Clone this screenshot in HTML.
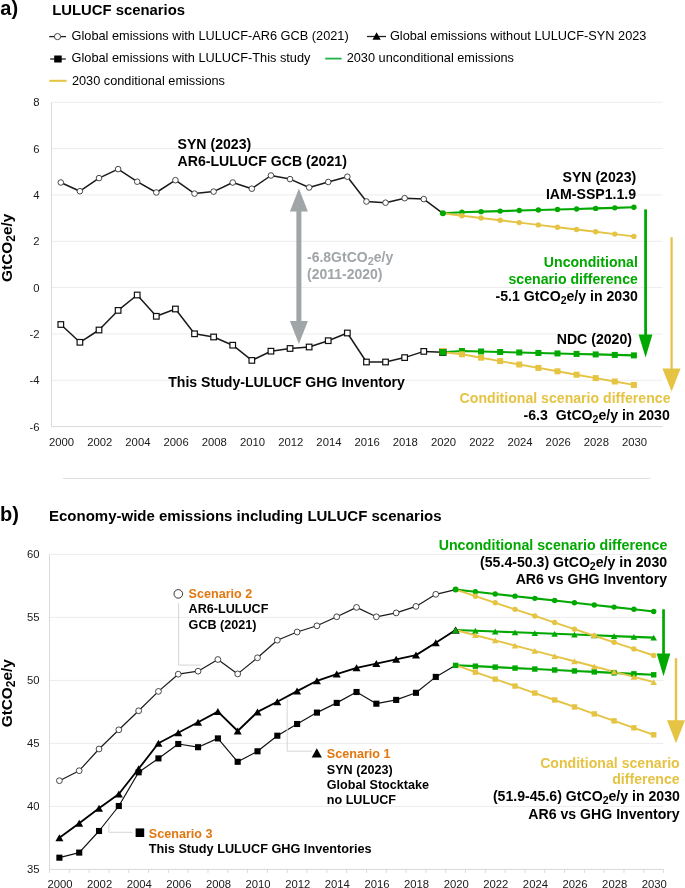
<!DOCTYPE html>
<html><head><meta charset="utf-8"><title>LULUCF scenarios</title>
<style>
html,body{margin:0;padding:0;background:#fff;}
body{width:685px;height:888px;overflow:hidden;}
svg{display:block;}
#w{will-change:transform;width:685px;height:888px;background:#fff;}
text{font-family:"Liberation Sans", sans-serif;fill:#000;}
.lbl{font-size:20px;font-weight:bold;}
.ttl{font-size:14.85px;font-weight:bold;}
.ttl2{font-size:15px;font-weight:bold;}
.lg{font-size:12.75px;}
.tk{font-size:11.3px;fill:#1a1a1a;}
.yt{font-size:15.4px;font-weight:bold;}
.sub{font-size:12px;}
.sub2{font-size:10.5px;}
.an{font-size:14.12px;font-weight:bold;}
.co{font-size:12.6px;font-weight:bold;}
.sub3{font-size:11px;}
.gr{font-size:14px;font-weight:bold;fill:#a0a5a8;}
</style></head>
<body>
<div id="w"><svg width="685" height="888" viewBox="0 0 685 888">
<rect width="685" height="888" fill="#fff"/>
<line x1="51.5" y1="102.24" x2="662.5" y2="102.24" stroke="#ececec" stroke-width="1"/>
<line x1="51.5" y1="148.58" x2="662.5" y2="148.58" stroke="#ececec" stroke-width="1"/>
<line x1="51.5" y1="194.92" x2="662.5" y2="194.92" stroke="#ececec" stroke-width="1"/>
<line x1="51.5" y1="241.26" x2="662.5" y2="241.26" stroke="#ececec" stroke-width="1"/>
<line x1="51.5" y1="287.60" x2="662.5" y2="287.60" stroke="#ececec" stroke-width="1"/>
<line x1="51.5" y1="333.94" x2="662.5" y2="333.94" stroke="#ececec" stroke-width="1"/>
<line x1="51.5" y1="380.28" x2="662.5" y2="380.28" stroke="#ececec" stroke-width="1"/>
<line x1="51.5" y1="102.24" x2="51.5" y2="426.62" stroke="#d9d9d9" stroke-width="1"/>
<line x1="51.5" y1="426.62" x2="662.5" y2="426.62" stroke="#d9d9d9" stroke-width="1"/>
<text x="39.5" y="106.24" text-anchor="end" class="tk">8</text>
<text x="39.5" y="152.58" text-anchor="end" class="tk">6</text>
<text x="39.5" y="198.92" text-anchor="end" class="tk">4</text>
<text x="39.5" y="245.26" text-anchor="end" class="tk">2</text>
<text x="39.5" y="291.60" text-anchor="end" class="tk">0</text>
<text x="39.5" y="337.94" text-anchor="end" class="tk">-2</text>
<text x="39.5" y="384.28" text-anchor="end" class="tk">-4</text>
<text x="39.5" y="430.62" text-anchor="end" class="tk">-6</text>
<text x="61.50" y="445.7" text-anchor="middle" class="tk">2000</text>
<text x="99.71" y="445.7" text-anchor="middle" class="tk">2002</text>
<text x="137.91" y="445.7" text-anchor="middle" class="tk">2004</text>
<text x="176.12" y="445.7" text-anchor="middle" class="tk">2006</text>
<text x="214.32" y="445.7" text-anchor="middle" class="tk">2008</text>
<text x="252.53" y="445.7" text-anchor="middle" class="tk">2010</text>
<text x="290.74" y="445.7" text-anchor="middle" class="tk">2012</text>
<text x="328.94" y="445.7" text-anchor="middle" class="tk">2014</text>
<text x="367.15" y="445.7" text-anchor="middle" class="tk">2016</text>
<text x="405.35" y="445.7" text-anchor="middle" class="tk">2018</text>
<text x="443.56" y="445.7" text-anchor="middle" class="tk">2020</text>
<text x="481.77" y="445.7" text-anchor="middle" class="tk">2022</text>
<text x="519.97" y="445.7" text-anchor="middle" class="tk">2024</text>
<text x="558.18" y="445.7" text-anchor="middle" class="tk">2026</text>
<text x="596.38" y="445.7" text-anchor="middle" class="tk">2028</text>
<text x="634.59" y="445.7" text-anchor="middle" class="tk">2030</text>
<polyline points="60.80,182.50 79.90,191.20 99.01,178.10 118.11,169.10 137.21,181.70 156.31,192.50 175.42,180.20 194.52,193.60 213.62,191.60 232.73,182.50 251.83,188.70 270.93,175.50 290.04,179.10 309.14,187.50 328.24,182.00 347.35,176.70 366.45,201.50 385.55,202.70 404.65,198.20 423.76,199.10 442.86,213.30" fill="none" stroke="#1a1a1a" stroke-width="1.5" stroke-linejoin="round"/>
<polyline points="60.80,324.50 79.90,342.30 99.01,330.00 118.11,310.40 137.21,295.00 156.31,316.30 175.42,309.00 194.52,333.80 213.62,337.00 232.73,345.20 251.83,360.40 270.93,351.20 290.04,348.50 309.14,347.00 328.24,340.70 347.35,333.00 366.45,362.00 385.55,362.00 404.65,357.60 423.76,351.40 442.86,352.20" fill="none" stroke="#1a1a1a" stroke-width="1.5" stroke-linejoin="round"/>
<polyline points="442.86,213.30 461.96,212.20 481.07,211.66 500.17,211.11 519.27,210.57 538.38,210.02 557.48,209.48 576.58,208.93 595.68,208.39 614.79,207.84 633.89,207.30" fill="none" stroke="#00a800" stroke-width="2.1" stroke-linejoin="round"/>
<polyline points="442.86,352.20 461.96,351.00 481.07,351.49 500.17,351.98 519.27,352.47 538.38,352.96 557.48,353.44 576.58,353.93 595.68,354.42 614.79,354.91 633.89,355.40" fill="none" stroke="#00a800" stroke-width="2.1" stroke-linejoin="round"/>
<polyline points="442.86,213.30 461.96,215.70 481.07,218.00 500.17,220.30 519.27,222.60 538.38,224.90 557.48,227.20 576.58,229.50 595.68,231.80 614.79,234.10 633.89,236.40" fill="none" stroke="#e5c343" stroke-width="1.9" stroke-linejoin="round"/>
<polyline points="442.86,352.20 461.96,354.30 481.07,357.70 500.17,361.10 519.27,364.50 538.38,367.90 557.48,371.30 576.58,374.70 595.68,378.10 614.79,381.50 633.89,384.90" fill="none" stroke="#e5c343" stroke-width="1.9" stroke-linejoin="round"/>
<circle cx="60.80" cy="182.50" r="2.8" fill="#fff" stroke="#333" stroke-width="0.9"/>
<rect x="58.00" y="321.70" width="5.6" height="5.6" fill="#fff" stroke="#111" stroke-width="1.2"/>
<circle cx="79.90" cy="191.20" r="2.8" fill="#fff" stroke="#333" stroke-width="0.9"/>
<rect x="77.10" y="339.50" width="5.6" height="5.6" fill="#fff" stroke="#111" stroke-width="1.2"/>
<circle cx="99.01" cy="178.10" r="2.8" fill="#fff" stroke="#333" stroke-width="0.9"/>
<rect x="96.21" y="327.20" width="5.6" height="5.6" fill="#fff" stroke="#111" stroke-width="1.2"/>
<circle cx="118.11" cy="169.10" r="2.8" fill="#fff" stroke="#333" stroke-width="0.9"/>
<rect x="115.31" y="307.60" width="5.6" height="5.6" fill="#fff" stroke="#111" stroke-width="1.2"/>
<circle cx="137.21" cy="181.70" r="2.8" fill="#fff" stroke="#333" stroke-width="0.9"/>
<rect x="134.41" y="292.20" width="5.6" height="5.6" fill="#fff" stroke="#111" stroke-width="1.2"/>
<circle cx="156.31" cy="192.50" r="2.8" fill="#fff" stroke="#333" stroke-width="0.9"/>
<rect x="153.51" y="313.50" width="5.6" height="5.6" fill="#fff" stroke="#111" stroke-width="1.2"/>
<circle cx="175.42" cy="180.20" r="2.8" fill="#fff" stroke="#333" stroke-width="0.9"/>
<rect x="172.62" y="306.20" width="5.6" height="5.6" fill="#fff" stroke="#111" stroke-width="1.2"/>
<circle cx="194.52" cy="193.60" r="2.8" fill="#fff" stroke="#333" stroke-width="0.9"/>
<rect x="191.72" y="331.00" width="5.6" height="5.6" fill="#fff" stroke="#111" stroke-width="1.2"/>
<circle cx="213.62" cy="191.60" r="2.8" fill="#fff" stroke="#333" stroke-width="0.9"/>
<rect x="210.82" y="334.20" width="5.6" height="5.6" fill="#fff" stroke="#111" stroke-width="1.2"/>
<circle cx="232.73" cy="182.50" r="2.8" fill="#fff" stroke="#333" stroke-width="0.9"/>
<rect x="229.93" y="342.40" width="5.6" height="5.6" fill="#fff" stroke="#111" stroke-width="1.2"/>
<circle cx="251.83" cy="188.70" r="2.8" fill="#fff" stroke="#333" stroke-width="0.9"/>
<rect x="249.03" y="357.60" width="5.6" height="5.6" fill="#fff" stroke="#111" stroke-width="1.2"/>
<circle cx="270.93" cy="175.50" r="2.8" fill="#fff" stroke="#333" stroke-width="0.9"/>
<rect x="268.13" y="348.40" width="5.6" height="5.6" fill="#fff" stroke="#111" stroke-width="1.2"/>
<circle cx="290.04" cy="179.10" r="2.8" fill="#fff" stroke="#333" stroke-width="0.9"/>
<rect x="287.24" y="345.70" width="5.6" height="5.6" fill="#fff" stroke="#111" stroke-width="1.2"/>
<circle cx="309.14" cy="187.50" r="2.8" fill="#fff" stroke="#333" stroke-width="0.9"/>
<rect x="306.34" y="344.20" width="5.6" height="5.6" fill="#fff" stroke="#111" stroke-width="1.2"/>
<circle cx="328.24" cy="182.00" r="2.8" fill="#fff" stroke="#333" stroke-width="0.9"/>
<rect x="325.44" y="337.90" width="5.6" height="5.6" fill="#fff" stroke="#111" stroke-width="1.2"/>
<circle cx="347.35" cy="176.70" r="2.8" fill="#fff" stroke="#333" stroke-width="0.9"/>
<rect x="344.55" y="330.20" width="5.6" height="5.6" fill="#fff" stroke="#111" stroke-width="1.2"/>
<circle cx="366.45" cy="201.50" r="2.8" fill="#fff" stroke="#333" stroke-width="0.9"/>
<rect x="363.65" y="359.20" width="5.6" height="5.6" fill="#fff" stroke="#111" stroke-width="1.2"/>
<circle cx="385.55" cy="202.70" r="2.8" fill="#fff" stroke="#333" stroke-width="0.9"/>
<rect x="382.75" y="359.20" width="5.6" height="5.6" fill="#fff" stroke="#111" stroke-width="1.2"/>
<circle cx="404.65" cy="198.20" r="2.8" fill="#fff" stroke="#333" stroke-width="0.9"/>
<rect x="401.85" y="354.80" width="5.6" height="5.6" fill="#fff" stroke="#111" stroke-width="1.2"/>
<circle cx="423.76" cy="199.10" r="2.8" fill="#fff" stroke="#333" stroke-width="0.9"/>
<rect x="420.96" y="348.60" width="5.6" height="5.6" fill="#fff" stroke="#111" stroke-width="1.2"/>
<rect x="439.16" y="348.60" width="7.4" height="7.4" fill="#222"/>
<rect x="439.76" y="348.00" width="6.2" height="6.2" fill="#e5c343"/>
<rect x="439.66" y="349.00" width="6.4" height="6.4" fill="#00a800"/>
<circle cx="442.86" cy="213.30" r="3.0" fill="#00a800"/>
<circle cx="461.96" cy="212.20" r="2.7" fill="#00a800"/>
<rect x="458.96" y="348.00" width="6" height="6" fill="#00a800"/>
<circle cx="481.07" cy="211.66" r="2.7" fill="#00a800"/>
<rect x="478.07" y="348.49" width="6" height="6" fill="#00a800"/>
<circle cx="500.17" cy="211.11" r="2.7" fill="#00a800"/>
<rect x="497.17" y="348.98" width="6" height="6" fill="#00a800"/>
<circle cx="519.27" cy="210.57" r="2.7" fill="#00a800"/>
<rect x="516.27" y="349.47" width="6" height="6" fill="#00a800"/>
<circle cx="538.38" cy="210.02" r="2.7" fill="#00a800"/>
<rect x="535.38" y="349.96" width="6" height="6" fill="#00a800"/>
<circle cx="557.48" cy="209.48" r="2.7" fill="#00a800"/>
<rect x="554.48" y="350.44" width="6" height="6" fill="#00a800"/>
<circle cx="576.58" cy="208.93" r="2.7" fill="#00a800"/>
<rect x="573.58" y="350.93" width="6" height="6" fill="#00a800"/>
<circle cx="595.68" cy="208.39" r="2.7" fill="#00a800"/>
<rect x="592.68" y="351.42" width="6" height="6" fill="#00a800"/>
<circle cx="614.79" cy="207.84" r="2.7" fill="#00a800"/>
<rect x="611.79" y="351.91" width="6" height="6" fill="#00a800"/>
<circle cx="633.89" cy="207.30" r="2.7" fill="#00a800"/>
<rect x="630.89" y="352.40" width="6" height="6" fill="#00a800"/>
<circle cx="461.96" cy="215.70" r="2.7" fill="#e5c343"/>
<rect x="458.96" y="351.30" width="6" height="6" fill="#e5c343"/>
<circle cx="481.07" cy="218.00" r="2.7" fill="#e5c343"/>
<rect x="478.07" y="354.70" width="6" height="6" fill="#e5c343"/>
<circle cx="500.17" cy="220.30" r="2.7" fill="#e5c343"/>
<rect x="497.17" y="358.10" width="6" height="6" fill="#e5c343"/>
<circle cx="519.27" cy="222.60" r="2.7" fill="#e5c343"/>
<rect x="516.27" y="361.50" width="6" height="6" fill="#e5c343"/>
<circle cx="538.38" cy="224.90" r="2.7" fill="#e5c343"/>
<rect x="535.38" y="364.90" width="6" height="6" fill="#e5c343"/>
<circle cx="557.48" cy="227.20" r="2.7" fill="#e5c343"/>
<rect x="554.48" y="368.30" width="6" height="6" fill="#e5c343"/>
<circle cx="576.58" cy="229.50" r="2.7" fill="#e5c343"/>
<rect x="573.58" y="371.70" width="6" height="6" fill="#e5c343"/>
<circle cx="595.68" cy="231.80" r="2.7" fill="#e5c343"/>
<rect x="592.68" y="375.10" width="6" height="6" fill="#e5c343"/>
<circle cx="614.79" cy="234.10" r="2.7" fill="#e5c343"/>
<rect x="611.79" y="378.50" width="6" height="6" fill="#e5c343"/>
<circle cx="633.89" cy="236.40" r="2.7" fill="#e5c343"/>
<rect x="630.89" y="381.90" width="6" height="6" fill="#e5c343"/>
<rect x="296.4" y="210" width="5" height="113" fill="#a0a5a8"/>
<polygon points="298.9,188.4 289.9,211.5 307.9,211.5" fill="#a0a5a8"/>
<polygon points="298.9,344 289.9,321 307.9,321" fill="#a0a5a8"/>
<rect x="644.2" y="209.4" width="2.8" height="126" fill="#00a800"/>
<polygon points="645.6,357.6 638.6,334.6 652.4,334.6" fill="#00a800"/>
<rect x="670.5" y="237.2" width="2.2" height="132" fill="#e5c343"/>
<polygon points="671.6,391.4 662.4,368.4 680.6,368.4" fill="#e5c343"/>
<text x="0.3" y="15.0" class="lbl">a)</text>
<text x="52.2" y="14.9" class="ttl">LULUCF scenarios</text>
<line x1="49.2" y1="36.6" x2="66" y2="36.6" stroke="#222" stroke-width="1.3"/>
<circle cx="57.5" cy="36.6" r="3.1" fill="#fff" stroke="#333" stroke-width="0.9"/>
<text x="71.6" y="39.8" class="lg">Global emissions with LULUCF-AR6 GCB (2021)</text>
<line x1="367" y1="36.5" x2="386" y2="36.5" stroke="#222" stroke-width="1.3"/>
<polygon points="376.6,32.3 372.5,39.8 380.7,39.8" fill="#000"/>
<text x="389.9" y="39.8" class="lg">Global emissions without LULUCF-SYN 2023</text>
<line x1="50.2" y1="59.0" x2="65.8" y2="59.0" stroke="#222" stroke-width="1.3"/>
<rect x="54.2" y="55.5" width="7.5" height="7.0" fill="#000"/>
<text x="71.6" y="62.3" class="lg">Global emissions with LULUCF-This study</text>
<line x1="325.2" y1="58.6" x2="341.6" y2="58.6" stroke="#22b14c" stroke-width="1.8"/>
<text x="346.7" y="62.3" class="lg">2030 unconditional emissions</text>
<line x1="49.3" y1="80.8" x2="66.6" y2="80.8" stroke="#e5c343" stroke-width="2"/>
<text x="71.9" y="85.1" class="lg">2030 conditional emissions</text>
<text transform="translate(12.3,247.8) rotate(-90)" text-anchor="middle" class="yt">GtCO<tspan class="sub" dy="3">2</tspan><tspan dy="-3">e/y</tspan></text>
<text x="177.5" y="148.9" class="an">SYN (2023)</text>
<text x="177.5" y="165.9" class="an">AR6-LULUCF GCB (2021)</text>
<text x="636.2" y="181.7" text-anchor="end" class="an">SYN (2023)</text>
<text x="636.1" y="198.5" text-anchor="end" class="an">IAM-SSP1.1.9</text>
<text x="307.0" y="262.3" class="gr">-6.8GtCO<tspan class="sub3" dy="2.6">2</tspan><tspan dy="-2.6">e/y</tspan></text>
<text x="307.0" y="279.0" class="gr">(2011-2020)</text>
<text x="637.9" y="266.5" text-anchor="end" class="an" style="fill:#00a800">Unconditional</text>
<text x="637.9" y="284.2" text-anchor="end" class="an" style="fill:#00a800">scenario difference</text>
<text x="637.9" y="300.7" text-anchor="end" class="an">-5.1 GtCO<tspan class="sub2" dy="2.8">2</tspan><tspan dy="-2.8">e/y in 2030</tspan></text>
<text x="632" y="344.2" text-anchor="end" class="an">NDC (2020)</text>
<text x="168.2" y="386.7" class="an">This Study-LULUCF GHG Inventory</text>
<text x="670.5" y="403" text-anchor="end" class="an" style="fill:#e5c343">Conditional scenario difference</text>
<text x="669.8" y="419.7" text-anchor="end" class="an" style="white-space:pre">-6.3  GtCO<tspan class="sub2" dy="2.8">2</tspan><tspan dy="-2.8">e/y in 2030</tspan></text>
<line x1="63" y1="478.4" x2="650.2" y2="478.4" stroke="#dcdcdc" stroke-width="1"/>
<line x1="49.5" y1="554.40" x2="663.6" y2="554.40" stroke="#ececec" stroke-width="1"/>
<line x1="49.5" y1="617.40" x2="663.6" y2="617.40" stroke="#ececec" stroke-width="1"/>
<line x1="49.5" y1="680.40" x2="663.6" y2="680.40" stroke="#ececec" stroke-width="1"/>
<line x1="49.5" y1="743.40" x2="663.6" y2="743.40" stroke="#ececec" stroke-width="1"/>
<line x1="49.5" y1="806.40" x2="663.6" y2="806.40" stroke="#ececec" stroke-width="1"/>
<line x1="49.5" y1="554.40" x2="49.5" y2="869.40" stroke="#d9d9d9" stroke-width="1"/>
<line x1="49.5" y1="869.40" x2="663.6" y2="869.40" stroke="#d9d9d9" stroke-width="1"/>
<line x1="49.50" y1="869.40" x2="49.50" y2="872.90" stroke="#d9d9d9" stroke-width="1"/>
<line x1="69.31" y1="869.40" x2="69.31" y2="872.90" stroke="#d9d9d9" stroke-width="1"/>
<line x1="89.12" y1="869.40" x2="89.12" y2="872.90" stroke="#d9d9d9" stroke-width="1"/>
<line x1="108.93" y1="869.40" x2="108.93" y2="872.90" stroke="#d9d9d9" stroke-width="1"/>
<line x1="128.74" y1="869.40" x2="128.74" y2="872.90" stroke="#d9d9d9" stroke-width="1"/>
<line x1="148.55" y1="869.40" x2="148.55" y2="872.90" stroke="#d9d9d9" stroke-width="1"/>
<line x1="168.36" y1="869.40" x2="168.36" y2="872.90" stroke="#d9d9d9" stroke-width="1"/>
<line x1="188.17" y1="869.40" x2="188.17" y2="872.90" stroke="#d9d9d9" stroke-width="1"/>
<line x1="207.98" y1="869.40" x2="207.98" y2="872.90" stroke="#d9d9d9" stroke-width="1"/>
<line x1="227.79" y1="869.40" x2="227.79" y2="872.90" stroke="#d9d9d9" stroke-width="1"/>
<line x1="247.60" y1="869.40" x2="247.60" y2="872.90" stroke="#d9d9d9" stroke-width="1"/>
<line x1="267.41" y1="869.40" x2="267.41" y2="872.90" stroke="#d9d9d9" stroke-width="1"/>
<line x1="287.22" y1="869.40" x2="287.22" y2="872.90" stroke="#d9d9d9" stroke-width="1"/>
<line x1="307.03" y1="869.40" x2="307.03" y2="872.90" stroke="#d9d9d9" stroke-width="1"/>
<line x1="326.84" y1="869.40" x2="326.84" y2="872.90" stroke="#d9d9d9" stroke-width="1"/>
<line x1="346.65" y1="869.40" x2="346.65" y2="872.90" stroke="#d9d9d9" stroke-width="1"/>
<line x1="366.46" y1="869.40" x2="366.46" y2="872.90" stroke="#d9d9d9" stroke-width="1"/>
<line x1="386.27" y1="869.40" x2="386.27" y2="872.90" stroke="#d9d9d9" stroke-width="1"/>
<line x1="406.08" y1="869.40" x2="406.08" y2="872.90" stroke="#d9d9d9" stroke-width="1"/>
<line x1="425.89" y1="869.40" x2="425.89" y2="872.90" stroke="#d9d9d9" stroke-width="1"/>
<line x1="445.70" y1="869.40" x2="445.70" y2="872.90" stroke="#d9d9d9" stroke-width="1"/>
<line x1="465.51" y1="869.40" x2="465.51" y2="872.90" stroke="#d9d9d9" stroke-width="1"/>
<line x1="485.32" y1="869.40" x2="485.32" y2="872.90" stroke="#d9d9d9" stroke-width="1"/>
<line x1="505.13" y1="869.40" x2="505.13" y2="872.90" stroke="#d9d9d9" stroke-width="1"/>
<line x1="524.94" y1="869.40" x2="524.94" y2="872.90" stroke="#d9d9d9" stroke-width="1"/>
<line x1="544.75" y1="869.40" x2="544.75" y2="872.90" stroke="#d9d9d9" stroke-width="1"/>
<line x1="564.56" y1="869.40" x2="564.56" y2="872.90" stroke="#d9d9d9" stroke-width="1"/>
<line x1="584.37" y1="869.40" x2="584.37" y2="872.90" stroke="#d9d9d9" stroke-width="1"/>
<line x1="604.18" y1="869.40" x2="604.18" y2="872.90" stroke="#d9d9d9" stroke-width="1"/>
<line x1="623.99" y1="869.40" x2="623.99" y2="872.90" stroke="#d9d9d9" stroke-width="1"/>
<line x1="643.80" y1="869.40" x2="643.80" y2="872.90" stroke="#d9d9d9" stroke-width="1"/>
<line x1="663.61" y1="869.40" x2="663.61" y2="872.90" stroke="#d9d9d9" stroke-width="1"/>
<text x="39.6" y="558.10" text-anchor="end" class="tk">60</text>
<text x="39.6" y="621.10" text-anchor="end" class="tk">55</text>
<text x="39.6" y="684.10" text-anchor="end" class="tk">50</text>
<text x="39.6" y="747.10" text-anchor="end" class="tk">45</text>
<text x="39.6" y="810.10" text-anchor="end" class="tk">40</text>
<text x="39.6" y="873.10" text-anchor="end" class="tk">35</text>
<text x="60.00" y="888.1" text-anchor="middle" class="tk">2000</text>
<text x="99.62" y="888.1" text-anchor="middle" class="tk">2002</text>
<text x="139.24" y="888.1" text-anchor="middle" class="tk">2004</text>
<text x="178.86" y="888.1" text-anchor="middle" class="tk">2006</text>
<text x="218.48" y="888.1" text-anchor="middle" class="tk">2008</text>
<text x="258.10" y="888.1" text-anchor="middle" class="tk">2010</text>
<text x="297.72" y="888.1" text-anchor="middle" class="tk">2012</text>
<text x="337.34" y="888.1" text-anchor="middle" class="tk">2014</text>
<text x="376.96" y="888.1" text-anchor="middle" class="tk">2016</text>
<text x="416.58" y="888.1" text-anchor="middle" class="tk">2018</text>
<text x="456.20" y="888.1" text-anchor="middle" class="tk">2020</text>
<text x="495.82" y="888.1" text-anchor="middle" class="tk">2022</text>
<text x="535.44" y="888.1" text-anchor="middle" class="tk">2024</text>
<text x="575.06" y="888.1" text-anchor="middle" class="tk">2026</text>
<text x="614.68" y="888.1" text-anchor="middle" class="tk">2028</text>
<text x="654.30" y="888.1" text-anchor="middle" class="tk">2030</text>
<polyline points="59.40,780.70 79.21,770.70 99.02,749.00 118.83,729.80 138.64,710.80 158.45,691.40 178.26,674.20 198.07,671.20 217.88,659.50 237.69,673.90 257.50,657.80 277.31,640.20 297.12,632.00 316.93,625.80 336.74,616.80 356.55,607.40 376.36,616.80 396.17,612.90 415.98,606.40 435.79,594.30 455.60,589.60" fill="none" stroke="#1a1a1a" stroke-width="1.2" stroke-linejoin="round"/>
<polyline points="59.40,837.80 79.21,823.20 99.02,808.30 118.83,794.00 138.64,768.80 158.45,743.30 178.26,732.80 198.07,722.30 217.88,711.60 237.69,731.00 257.50,711.90 277.31,701.70 297.12,691.10 316.93,680.80 336.74,674.10 356.55,667.80 376.36,663.60 396.17,659.30 415.98,655.10 435.79,642.70 455.60,630.00" fill="none" stroke="#000" stroke-width="1.85" stroke-linejoin="round"/>
<polyline points="59.40,857.70 79.21,852.60 99.02,831.00 118.83,806.00 138.64,772.30 158.45,758.40 178.26,744.00 198.07,747.20 217.88,738.40 237.69,761.80 257.50,751.30 277.31,735.70 297.12,724.00 316.93,712.60 336.74,702.90 356.55,692.00 376.36,703.70 396.17,699.90 415.98,692.80 435.79,676.90 455.60,665.20" fill="none" stroke="#111" stroke-width="1.2" stroke-linejoin="round"/>
<polyline points="455.60,589.60 475.41,591.79 495.22,593.98 515.03,596.17 534.84,598.36 554.65,600.55 574.46,602.74 594.27,604.93 614.08,607.12 633.89,609.31 653.70,611.50" fill="none" stroke="#00a800" stroke-width="2.1" stroke-linejoin="round"/>
<polyline points="455.60,630.00 475.41,630.76 495.22,631.52 515.03,632.28 534.84,633.04 554.65,633.80 574.46,634.56 594.27,635.32 614.08,636.08 633.89,636.84 653.70,637.60" fill="none" stroke="#00a800" stroke-width="2.1" stroke-linejoin="round"/>
<polyline points="455.60,665.20 475.41,666.16 495.22,667.12 515.03,668.08 534.84,669.04 554.65,670.00 574.46,670.96 594.27,671.92 614.08,672.88 633.89,673.84 653.70,674.80" fill="none" stroke="#00a800" stroke-width="2.1" stroke-linejoin="round"/>
<polyline points="455.60,589.60 475.41,596.19 495.22,602.78 515.03,609.37 534.84,615.96 554.65,622.55 574.46,629.14 594.27,635.73 614.08,642.32 633.89,648.91 653.70,655.50" fill="none" stroke="#e5c343" stroke-width="1.9" stroke-linejoin="round"/>
<polyline points="455.60,630.00 475.41,635.21 495.22,640.42 515.03,645.63 534.84,650.84 554.65,656.05 574.46,661.26 594.27,666.47 614.08,671.68 633.89,676.89 653.70,682.10" fill="none" stroke="#e5c343" stroke-width="1.9" stroke-linejoin="round"/>
<polyline points="455.60,665.20 475.41,672.16 495.22,679.12 515.03,686.08 534.84,693.04 554.65,700.00 574.46,706.96 594.27,713.92 614.08,720.88 633.89,727.84 653.70,734.80" fill="none" stroke="#e5c343" stroke-width="1.9" stroke-linejoin="round"/>
<circle cx="59.40" cy="780.70" r="2.9" fill="#fff" stroke="#333" stroke-width="0.9"/>
<rect x="56.35" y="854.65" width="6.1" height="6.1" fill="#000"/>
<polygon points="59.40,834.30 55.40,841.30 63.40,841.30" fill="#000"/>
<circle cx="79.21" cy="770.70" r="2.9" fill="#fff" stroke="#333" stroke-width="0.9"/>
<rect x="76.16" y="849.55" width="6.1" height="6.1" fill="#000"/>
<polygon points="79.21,819.70 75.21,826.70 83.21,826.70" fill="#000"/>
<circle cx="99.02" cy="749.00" r="2.9" fill="#fff" stroke="#333" stroke-width="0.9"/>
<rect x="95.97" y="827.95" width="6.1" height="6.1" fill="#000"/>
<polygon points="99.02,804.80 95.02,811.80 103.02,811.80" fill="#000"/>
<circle cx="118.83" cy="729.80" r="2.9" fill="#fff" stroke="#333" stroke-width="0.9"/>
<rect x="115.78" y="802.95" width="6.1" height="6.1" fill="#000"/>
<polygon points="118.83,790.50 114.83,797.50 122.83,797.50" fill="#000"/>
<circle cx="138.64" cy="710.80" r="2.9" fill="#fff" stroke="#333" stroke-width="0.9"/>
<rect x="135.59" y="769.25" width="6.1" height="6.1" fill="#000"/>
<polygon points="138.64,765.30 134.64,772.30 142.64,772.30" fill="#000"/>
<circle cx="158.45" cy="691.40" r="2.9" fill="#fff" stroke="#333" stroke-width="0.9"/>
<rect x="155.40" y="755.35" width="6.1" height="6.1" fill="#000"/>
<polygon points="158.45,739.80 154.45,746.80 162.45,746.80" fill="#000"/>
<circle cx="178.26" cy="674.20" r="2.9" fill="#fff" stroke="#333" stroke-width="0.9"/>
<rect x="175.21" y="740.95" width="6.1" height="6.1" fill="#000"/>
<polygon points="178.26,729.30 174.26,736.30 182.26,736.30" fill="#000"/>
<circle cx="198.07" cy="671.20" r="2.9" fill="#fff" stroke="#333" stroke-width="0.9"/>
<rect x="195.02" y="744.15" width="6.1" height="6.1" fill="#000"/>
<polygon points="198.07,718.80 194.07,725.80 202.07,725.80" fill="#000"/>
<circle cx="217.88" cy="659.50" r="2.9" fill="#fff" stroke="#333" stroke-width="0.9"/>
<rect x="214.83" y="735.35" width="6.1" height="6.1" fill="#000"/>
<polygon points="217.88,708.10 213.88,715.10 221.88,715.10" fill="#000"/>
<circle cx="237.69" cy="673.90" r="2.9" fill="#fff" stroke="#333" stroke-width="0.9"/>
<rect x="234.64" y="758.75" width="6.1" height="6.1" fill="#000"/>
<polygon points="237.69,727.50 233.69,734.50 241.69,734.50" fill="#000"/>
<circle cx="257.50" cy="657.80" r="2.9" fill="#fff" stroke="#333" stroke-width="0.9"/>
<rect x="254.45" y="748.25" width="6.1" height="6.1" fill="#000"/>
<polygon points="257.50,708.40 253.50,715.40 261.50,715.40" fill="#000"/>
<circle cx="277.31" cy="640.20" r="2.9" fill="#fff" stroke="#333" stroke-width="0.9"/>
<rect x="274.26" y="732.65" width="6.1" height="6.1" fill="#000"/>
<polygon points="277.31,698.20 273.31,705.20 281.31,705.20" fill="#000"/>
<circle cx="297.12" cy="632.00" r="2.9" fill="#fff" stroke="#333" stroke-width="0.9"/>
<rect x="294.07" y="720.95" width="6.1" height="6.1" fill="#000"/>
<polygon points="297.12,687.60 293.12,694.60 301.12,694.60" fill="#000"/>
<circle cx="316.93" cy="625.80" r="2.9" fill="#fff" stroke="#333" stroke-width="0.9"/>
<rect x="313.88" y="709.55" width="6.1" height="6.1" fill="#000"/>
<polygon points="316.93,677.30 312.93,684.30 320.93,684.30" fill="#000"/>
<circle cx="336.74" cy="616.80" r="2.9" fill="#fff" stroke="#333" stroke-width="0.9"/>
<rect x="333.69" y="699.85" width="6.1" height="6.1" fill="#000"/>
<polygon points="336.74,670.60 332.74,677.60 340.74,677.60" fill="#000"/>
<circle cx="356.55" cy="607.40" r="2.9" fill="#fff" stroke="#333" stroke-width="0.9"/>
<rect x="353.50" y="688.95" width="6.1" height="6.1" fill="#000"/>
<polygon points="356.55,664.30 352.55,671.30 360.55,671.30" fill="#000"/>
<circle cx="376.36" cy="616.80" r="2.9" fill="#fff" stroke="#333" stroke-width="0.9"/>
<rect x="373.31" y="700.65" width="6.1" height="6.1" fill="#000"/>
<polygon points="376.36,660.10 372.36,667.10 380.36,667.10" fill="#000"/>
<circle cx="396.17" cy="612.90" r="2.9" fill="#fff" stroke="#333" stroke-width="0.9"/>
<rect x="393.12" y="696.85" width="6.1" height="6.1" fill="#000"/>
<polygon points="396.17,655.80 392.17,662.80 400.17,662.80" fill="#000"/>
<circle cx="415.98" cy="606.40" r="2.9" fill="#fff" stroke="#333" stroke-width="0.9"/>
<rect x="412.93" y="689.75" width="6.1" height="6.1" fill="#000"/>
<polygon points="415.98,651.60 411.98,658.60 419.98,658.60" fill="#000"/>
<circle cx="435.79" cy="594.30" r="2.9" fill="#fff" stroke="#333" stroke-width="0.9"/>
<rect x="432.74" y="673.85" width="6.1" height="6.1" fill="#000"/>
<polygon points="435.79,639.20 431.79,646.20 439.79,646.20" fill="#000"/>
<polygon points="455.60,626.50 451.60,633.50 459.60,633.50" fill="#000"/>
<circle cx="475.41" cy="591.79" r="2.7" fill="#00a800"/>
<circle cx="495.22" cy="593.98" r="2.7" fill="#00a800"/>
<circle cx="515.03" cy="596.17" r="2.7" fill="#00a800"/>
<circle cx="534.84" cy="598.36" r="2.7" fill="#00a800"/>
<circle cx="554.65" cy="600.55" r="2.7" fill="#00a800"/>
<circle cx="574.46" cy="602.74" r="2.7" fill="#00a800"/>
<circle cx="594.27" cy="604.93" r="2.7" fill="#00a800"/>
<circle cx="614.08" cy="607.12" r="2.7" fill="#00a800"/>
<circle cx="633.89" cy="609.31" r="2.7" fill="#00a800"/>
<circle cx="653.70" cy="611.50" r="2.7" fill="#00a800"/>
<polygon points="475.41,627.86 472.11,633.66 478.71,633.66" fill="#00a800"/>
<polygon points="495.22,628.62 491.92,634.42 498.52,634.42" fill="#00a800"/>
<polygon points="515.03,629.38 511.73,635.18 518.33,635.18" fill="#00a800"/>
<polygon points="534.84,630.14 531.54,635.94 538.14,635.94" fill="#00a800"/>
<polygon points="554.65,630.90 551.35,636.70 557.95,636.70" fill="#00a800"/>
<polygon points="574.46,631.66 571.16,637.46 577.76,637.46" fill="#00a800"/>
<polygon points="594.27,632.42 590.97,638.22 597.57,638.22" fill="#00a800"/>
<polygon points="614.08,633.18 610.78,638.98 617.38,638.98" fill="#00a800"/>
<polygon points="633.89,633.94 630.59,639.74 637.19,639.74" fill="#00a800"/>
<polygon points="653.70,634.70 650.40,640.50 657.00,640.50" fill="#00a800"/>
<rect x="472.71" y="663.46" width="5.4" height="5.4" fill="#00a800"/>
<rect x="492.52" y="664.42" width="5.4" height="5.4" fill="#00a800"/>
<rect x="512.33" y="665.38" width="5.4" height="5.4" fill="#00a800"/>
<rect x="532.14" y="666.34" width="5.4" height="5.4" fill="#00a800"/>
<rect x="551.95" y="667.30" width="5.4" height="5.4" fill="#00a800"/>
<rect x="571.76" y="668.26" width="5.4" height="5.4" fill="#00a800"/>
<rect x="591.57" y="669.22" width="5.4" height="5.4" fill="#00a800"/>
<rect x="611.38" y="670.18" width="5.4" height="5.4" fill="#00a800"/>
<rect x="631.19" y="671.14" width="5.4" height="5.4" fill="#00a800"/>
<rect x="651.00" y="672.10" width="5.4" height="5.4" fill="#00a800"/>
<circle cx="475.41" cy="596.19" r="2.7" fill="#e5c343"/>
<circle cx="495.22" cy="602.78" r="2.7" fill="#e5c343"/>
<circle cx="515.03" cy="609.37" r="2.7" fill="#e5c343"/>
<circle cx="534.84" cy="615.96" r="2.7" fill="#e5c343"/>
<circle cx="554.65" cy="622.55" r="2.7" fill="#e5c343"/>
<circle cx="574.46" cy="629.14" r="2.7" fill="#e5c343"/>
<circle cx="594.27" cy="635.73" r="2.7" fill="#e5c343"/>
<circle cx="614.08" cy="642.32" r="2.7" fill="#e5c343"/>
<circle cx="633.89" cy="648.91" r="2.7" fill="#e5c343"/>
<circle cx="653.70" cy="655.50" r="2.7" fill="#e5c343"/>
<polygon points="475.41,632.31 472.11,638.11 478.71,638.11" fill="#e5c343"/>
<polygon points="495.22,637.52 491.92,643.32 498.52,643.32" fill="#e5c343"/>
<polygon points="515.03,642.73 511.73,648.53 518.33,648.53" fill="#e5c343"/>
<polygon points="534.84,647.94 531.54,653.74 538.14,653.74" fill="#e5c343"/>
<polygon points="554.65,653.15 551.35,658.95 557.95,658.95" fill="#e5c343"/>
<polygon points="574.46,658.36 571.16,664.16 577.76,664.16" fill="#e5c343"/>
<polygon points="594.27,663.57 590.97,669.37 597.57,669.37" fill="#e5c343"/>
<polygon points="614.08,668.78 610.78,674.58 617.38,674.58" fill="#e5c343"/>
<polygon points="633.89,673.99 630.59,679.79 637.19,679.79" fill="#e5c343"/>
<polygon points="653.70,679.20 650.40,685.00 657.00,685.00" fill="#e5c343"/>
<rect x="472.71" y="669.46" width="5.4" height="5.4" fill="#e5c343"/>
<rect x="492.52" y="676.42" width="5.4" height="5.4" fill="#e5c343"/>
<rect x="512.33" y="683.38" width="5.4" height="5.4" fill="#e5c343"/>
<rect x="532.14" y="690.34" width="5.4" height="5.4" fill="#e5c343"/>
<rect x="551.95" y="697.30" width="5.4" height="5.4" fill="#e5c343"/>
<rect x="571.76" y="704.26" width="5.4" height="5.4" fill="#e5c343"/>
<rect x="591.57" y="711.22" width="5.4" height="5.4" fill="#e5c343"/>
<rect x="611.38" y="718.18" width="5.4" height="5.4" fill="#e5c343"/>
<rect x="631.19" y="725.14" width="5.4" height="5.4" fill="#e5c343"/>
<rect x="651.00" y="732.10" width="5.4" height="5.4" fill="#e5c343"/>
<circle cx="455.60" cy="589.60" r="3.0" fill="#00a800"/>
<polygon points="455.60,626.50 451.60,633.50 459.60,633.50" fill="#222"/>
<polygon points="455.60,627.35 452.20,633.25 459.00,633.25" fill="#00a800"/>
<rect x="452.90" y="662.70" width="5.4" height="5.4" fill="#00a800"/>
<rect x="662.2" y="609.3" width="2.7" height="45" fill="#00a800"/>
<polygon points="663.5,676.2 656.7,653.6 670.3,653.6" fill="#00a800"/>
<rect x="674.8" y="658.2" width="2.4" height="63" fill="#e5c343"/>
<polygon points="676,743.2 667,720.2 685,720.2" fill="#e5c343"/>
<polyline points="178.6,603.4 178.6,665.1 201,665.1" fill="none" stroke="#d6d6d6" stroke-width="1"/>
<circle cx="178.3" cy="593.9" r="4.3" fill="#fff" stroke="#333" stroke-width="1"/>
<text x="188.6" y="597.9" class="co" style="fill:#e2770f">Scenario 2</text>
<text x="188.6" y="613.4" class="co">AR6-LULUCF</text>
<text x="188.6" y="628.7" class="co">GCB (2021)</text>
<polyline points="287.2,698.5 287.2,751.2 312,751.2" fill="none" stroke="#d6d6d6" stroke-width="1"/>
<polygon points="316.80,748.20 311.70,757.40 321.90,757.40" fill="#000"/>
<text x="326.8" y="758.4" class="co" style="fill:#e2770f">Scenario 1</text>
<text x="326.8" y="773.5" class="co">SYN (2023)</text>
<text x="326.8" y="788.8" class="co">Global Stocktake</text>
<text x="326.8" y="803.8" class="co">no LULUCF</text>
<polyline points="108.9,822.4 108.9,832.3 132.8,832.3" fill="none" stroke="#d6d6d6" stroke-width="1"/>
<rect x="135.6" y="828.4" width="8.6" height="8.6" fill="#000"/>
<text x="148.8" y="837.6" class="co" style="fill:#e2770f">Scenario 3</text>
<text x="148.8" y="852.8" class="co" style="font-size:12.7px">This Study LULUCF GHG Inventories</text>
<text x="0" y="520.7" class="lbl">b)</text>
<text x="49" y="520.7" class="ttl2">Economy-wide emissions including LULUCF scenarios</text>
<text transform="translate(12.3,693.2) rotate(-90)" text-anchor="middle" class="yt">GtCO<tspan class="sub" dy="3">2</tspan><tspan dy="-3">e/y</tspan></text>
<text x="667.3" y="549.5" text-anchor="end" class="an" style="fill:#00a800;font-size:14.2px">Unconditional scenario difference</text>
<text x="667.1" y="566.8" text-anchor="end" class="an">(55.4-50.3) GtCO<tspan class="sub2" dy="2.8">2</tspan><tspan dy="-2.8">e/y in 2030</tspan></text>
<text x="667.0" y="583.8" text-anchor="end" class="an">AR6 vs GHG Inventory</text>
<text x="679.7" y="767.6" text-anchor="end" class="an" style="fill:#e5c343">Conditional scenario</text>
<text x="679.7" y="784.2" text-anchor="end" class="an" style="fill:#e5c343">difference</text>
<text x="679.9" y="801.4" text-anchor="end" class="an">(51.9-45.6) GtCO<tspan class="sub2" dy="2.8">2</tspan><tspan dy="-2.8">e/y in 2030</tspan></text>
<text x="679.7" y="818.8" text-anchor="end" class="an">AR6 vs GHG Inventory</text>
</svg></div>
</body></html>
